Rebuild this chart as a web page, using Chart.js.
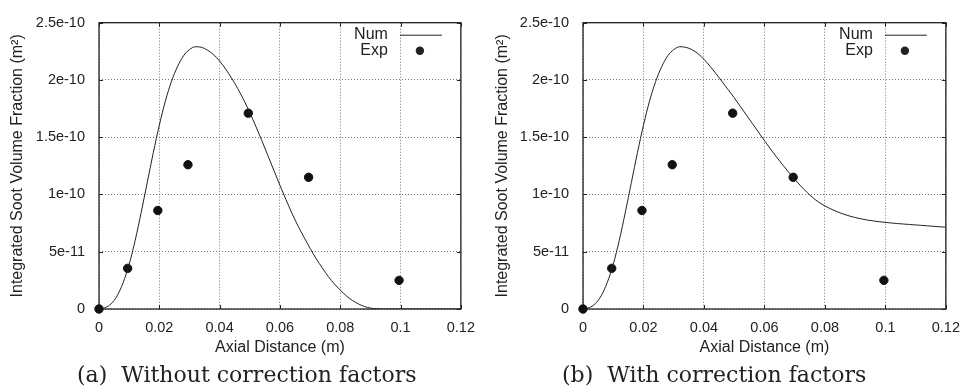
<!DOCTYPE html>
<html>
<head>
<meta charset="utf-8">
<script src="https://cdn.jsdelivr.net/npm/chart.js@4.4.1/dist/chart.umd.min.js"></script>
<style>
  body { margin: 0; background: #fff; }
  .wrap { display: flex; width: 970px; height: 392px; }
  .panel { position: relative; width: 485px; height: 392px; }
</style>
</head>
<body>
<div class="wrap">
  <div class="panel"><canvas id="chartA"></canvas></div>
  <div class="panel"><canvas id="chartB"></canvas></div>
</div>
<script>
// x positions of the computed curve (m)
const numX = [0, 0.002, 0.004, 0.006, 0.008, 0.010, 0.012, 0.014, 0.016, 0.018,
  0.020, 0.022, 0.024, 0.026, 0.028, 0.030, 0.032, 0.034, 0.036, 0.038,
  0.040, 0.042, 0.044, 0.046, 0.048, 0.050, 0.052, 0.054, 0.056, 0.058,
  0.060, 0.062, 0.064, 0.066, 0.068, 0.070, 0.072, 0.074, 0.076, 0.078,
  0.080, 0.082, 0.084, 0.086, 0.088, 0.090, 0.092, 0.094, 0.096, 0.098,
  0.100, 0.102, 0.104, 0.106, 0.108, 0.110, 0.112, 0.114, 0.116, 0.118, 0.120];

// (a) without correction factors
const numA = [0, 0.1e-11, 0.45e-11, 1.15e-11, 2.3e-11, 3.9e-11, 6.0e-11, 8.45e-11, 11.05e-11, 13.65e-11,
  16.05e-11, 18.15e-11, 19.85e-11, 21.15e-11, 22.1e-11, 22.65e-11, 22.9e-11, 22.85e-11, 22.6e-11, 22.2e-11,
  21.65e-11, 20.95e-11, 20.15e-11, 19.25e-11, 18.25e-11, 17.15e-11, 15.95e-11, 14.7e-11, 13.4e-11, 12.1e-11,
  10.8e-11, 9.55e-11, 8.35e-11, 7.25e-11, 6.25e-11, 5.3e-11, 4.4e-11, 3.6e-11, 2.85e-11, 2.2e-11,
  1.65e-11, 1.15e-11, 0.75e-11, 0.45e-11, 0.22e-11, 0.08e-11, 0.02e-11, 0, 0, 0,
  0, 0, 0, 0, 0, 0, 0, 0, 0, 0, 0];

// (b) with correction factors
const numB = [0, 0.1e-11, 0.45e-11, 1.15e-11, 2.3e-11, 3.9e-11, 6.0e-11, 8.45e-11, 11.05e-11, 13.65e-11,
  16.05e-11, 18.15e-11, 19.85e-11, 21.15e-11, 22.1e-11, 22.65e-11, 22.9e-11, 22.85e-11, 22.65e-11, 22.3e-11,
  21.8e-11, 21.2e-11, 20.55e-11, 19.85e-11, 19.15e-11, 18.45e-11, 17.7e-11, 16.95e-11, 16.2e-11, 15.45e-11,
  14.7e-11, 13.97e-11, 13.27e-11, 12.6e-11, 11.95e-11, 11.33e-11, 10.75e-11, 10.2e-11, 9.72e-11, 9.32e-11,
  9.0e-11, 8.73e-11, 8.5e-11, 8.3e-11, 8.13e-11, 7.99e-11, 7.87e-11, 7.77e-11, 7.69e-11, 7.62e-11,
  7.56e-11, 7.51e-11, 7.46e-11, 7.42e-11, 7.38e-11, 7.34e-11, 7.3e-11, 7.26e-11, 7.22e-11, 7.18e-11, 7.14e-11];

// experimental points
const expX = [0, 0.0095, 0.0195, 0.0295, 0.0495, 0.0695, 0.0995];
const expY = [0, 3.55e-11, 8.6e-11, 12.6e-11, 17.1e-11, 11.5e-11, 2.5e-11];

const xTicks = [0, 0.02, 0.04, 0.06, 0.08, 0.1, 0.12];
const xTickLabels = ['0', '0.02', '0.04', '0.06', '0.08', '0.1', '0.12'];
const yTicks = [0, 5e-11, 1e-10, 1.5e-10, 2e-10, 2.5e-10];
const yTickLabels = ['0', '5e-11', '1e-10', '1.5e-10', '2e-10', '2.5e-10'];

const seriesLabels = ['Num', 'Exp'];

const sans = '"Liberation Sans", Arial, sans-serif';
const ink = '#222';

// box, inward ticks, legend and caption in the gnuplot manner
const gnuplotFrame = {
  id: 'gnuplotFrame',
  beforeDatasetsDraw(chart) {
    const {ctx, chartArea: {top, right, bottom, left}, scales: {x, y}} = chart;
    ctx.save();
    ctx.strokeStyle = ink;
    ctx.lineWidth = 1.3;
    ctx.strokeRect(left, top, right - left, bottom - top);
    ctx.lineWidth = 1;
    ctx.beginPath();
    x.ticks.forEach(t => {
      const px = Math.round(x.getPixelForValue(t.value)) + 0.5;
      ctx.moveTo(px, bottom); ctx.lineTo(px, bottom - 4);
      ctx.moveTo(px, top); ctx.lineTo(px, top + 4);
    });
    y.ticks.forEach(t => {
      const py = Math.round(y.getPixelForValue(t.value)) + 0.5;
      ctx.moveTo(left, py); ctx.lineTo(left + 4, py);
      ctx.moveTo(right, py); ctx.lineTo(right - 4, py);
    });
    ctx.stroke();
    ctx.restore();
  },
  afterDraw(chart, args, opts) {
    const {ctx, chartArea: {top, right}} = chart;
    ctx.save();
    ctx.fillStyle = ink;
    ctx.strokeStyle = ink;
    ctx.font = '16px ' + sans;
    ctx.textAlign = 'right';
    ctx.textBaseline = 'middle';
    chart.data.datasets.forEach((ds, i) => {
      const ly = top + 12 + i * 16;
      ctx.fillText(ds.label, right - 73, ly);
      if (ds.showLine) {
        ctx.lineWidth = 1;
        ctx.beginPath();
        ctx.moveTo(right - 61, ly + 0.5);
        ctx.lineTo(right - 19, ly + 0.5);
        ctx.stroke();
      } else {
        ctx.beginPath();
        ctx.arc(right - 41, ly, ds.pointRadius, 0, Math.PI * 2);
        ctx.fill();
      }
    });
    ctx.font = '22px "DejaVu Serif", serif';
    ctx.textAlign = 'left';
    ctx.fillText(opts.caption, 77, 376);
    ctx.restore();
  }
};

function makeChart(id, numY, caption, yWidth, rightPad) {
  const ctx = document.getElementById(id).getContext('2d');
  const data = {
    datasets: [
      {
        label: seriesLabels[0],
        data: numX.map((v, i) => ({x: v, y: numY[i]})),
        showLine: true,
        borderColor: ink,
        borderWidth: 1,
        pointRadius: 0,
        cubicInterpolationMode: 'monotone'
      },
      {
        label: seriesLabels[1],
        data: expX.map((v, i) => ({x: v, y: expY[i]})),
        showLine: false,
        backgroundColor: '#111',
        borderColor: '#111',
        pointRadius: 4.2,
        clip: false
      }
    ]
  };
  const gridStyle = {
    color: '#777',
    lineWidth: 1,
    drawTicks: false
  };
  const config = {
    type: 'scatter',
    data: data,
    options: {
      responsive: true,
      maintainAspectRatio: false,
      animation: false,
      layout: {
        padding: {top: 13, right: rightPad, bottom: 30, left: 0}
      },
      plugins: {
        legend: {display: false},
        tooltip: {enabled: false},
        gnuplotFrame: {caption: caption}
      },
      scales: {
        x: {
          type: 'linear',
          min: 0,
          max: 0.12,
          afterBuildTicks: s => { s.ticks = xTicks.map(v => ({value: v})); },
          afterFit: s => { s.height = 53; },
          ticks: {
            padding: 10,
            color: ink,
            font: {family: sans, size: 14.5},
            callback: (v, i) => xTickLabels[i]
          },
          grid: gridStyle,
          border: {display: false, dash: [1, 2]},
          title: {
            display: true,
            text: 'Axial Distance (m)',
            color: ink,
            font: {family: sans, size: 16},
            padding: {top: 0, bottom: 5}
          }
        },
        y: {
          type: 'linear',
          min: 0,
          max: 2.5e-10,
          afterBuildTicks: s => { s.ticks = yTicks.map(v => ({value: v})); },
          afterFit: s => { s.width = yWidth; },
          ticks: {
            padding: 14,
            color: ink,
            font: {family: sans, size: 14.5},
            callback: (v, i) => yTickLabels[i]
          },
          grid: gridStyle,
          border: {display: false, dash: [1, 2]},
          title: {
            display: true,
            text: 'Integrated Soot Volume Fraction (m²)',
            color: ink,
            font: {family: sans, size: 16},
            padding: {top: 8, bottom: 0}
          }
        }
      }
    },
    plugins: [gnuplotFrame]
  };
  return new Chart(ctx, config);
}

makeChart('chartA', numA, '(a)  Without correction factors', 99, 21);
makeChart('chartB', numB, '(b)  With correction factors', 98, 23);
</script>
</body>
</html>
